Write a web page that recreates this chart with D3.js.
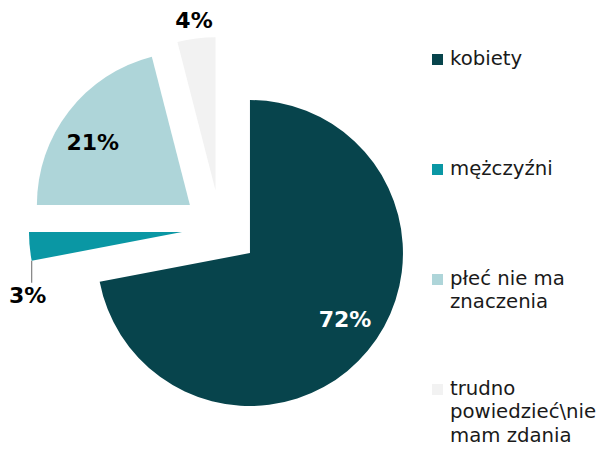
<!DOCTYPE html>
<html>
<head>
<meta charset="utf-8">
<script src="https://cdn.jsdelivr.net/npm/d3@7"></script>
<style>
  html, body { margin: 0; padding: 0; background: #fff; }
  svg { display: block; }
</style>
</head>
<body>
<svg id="chart" width="603" height="450"></svg>
<script>
const categories = ["kobiety", "mężczyźni", "płeć nie ma znaczenia", "trudno powiedzieć\\nie mam zdania"];
const legendLines = [["kobiety"], ["mężczyźni"], ["płeć nie ma", "znaczenia"], ["trudno", "powiedzieć\\nie", "mam zdania"]];
const values = [72, 3, 21, 4];
const labels = ["72%", "3%", "21%", "4%"];
const colors = ["#07444C", "#0A97A4", "#AED5D9", "#F2F2F2"];
const labelColors = ["#ffffff", "#000000", "#000000", "#000000"];

const svg = d3.select("#chart");
const cx = 220.3, cy = 228.5, r = 153, explode = 38.5;

const pie = d3.pie().sort(null).value(d => d).startAngle(0).endAngle(2 * Math.PI);
const arcs = pie(values);
const arc = d3.arc().innerRadius(0).outerRadius(r);
const dir = a => [Math.sin(a), -Math.cos(a)];
const rad = deg => deg * Math.PI / 180;

const g = svg.append("g").attr("transform", `translate(${cx},${cy})`);

arcs.forEach((a, i) => {
  const mid = (a.startAngle + a.endAngle) / 2;
  const [ux, uy] = dir(mid);
  const ox = ux * explode, oy = uy * explode;
  const sg = g.append("g").attr("transform", `translate(${ox},${oy})`);
  sg.append("path").attr("d", arc(a)).attr("fill", colors[i]);

  const font = "bold 22px 'DejaVu Sans', Verdana, sans-serif";
  if (i === 1) {
    // small slice: label outside below with leader line
    const [sx, sy] = dir(a.startAngle);
    const px = sx * r, py = sy * r;
    sg.append("line")
      .attr("x1", px).attr("y1", py)
      .attr("x2", px).attr("y2", py + 22)
      .attr("stroke", "#808080").attr("stroke-width", 1.2);
    sg.append("text")
      .attr("x", px - 4).attr("y", py + 42)
      .attr("text-anchor", "middle")
      .style("font", font).attr("fill", labelColors[i])
      .text(labels[i]);
  } else {
    const lr = i === 3 ? r * 1.12 : r * 0.755;
    const la = i === 3 ? mid : mid - rad(5);
    const [lx, ly] = dir(la);
    sg.append("text")
      .attr("x", lx * lr).attr("y", ly * lr)
      .attr("dy", "0.36em")
      .attr("text-anchor", "middle")
      .style("font", font).attr("fill", labelColors[i])
      .text(labels[i]);
  }
});

// legend
const legendY = [65, 175, 285, 395];
const lg = svg.append("g");
categories.forEach((c, i) => {
  const item = lg.append("g").attr("transform", `translate(432,${legendY[i]})`);
  item.append("rect").attr("x", 0).attr("y", -11).attr("width", 11).attr("height", 11)
    .attr("fill", colors[i]);
  const t = item.append("text")
    .attr("x", 18).attr("y", 0)
    .style("font", "19.7px 'DejaVu Sans', Verdana, sans-serif")
    .attr("fill", "#1a1a1a");
  legendLines[i].forEach((ln, j) => {
    t.append("tspan").attr("x", 18).attr("y", j * 23.3).text(ln);
  });
});
</script>
</body>
</html>
